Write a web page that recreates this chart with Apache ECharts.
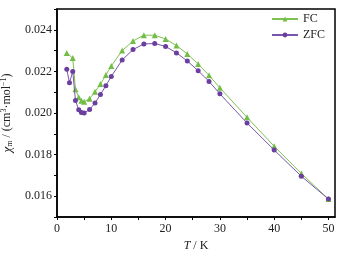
<!DOCTYPE html>
<html>
<head>
<meta charset="utf-8">
<script src="https://cdn.jsdelivr.net/npm/echarts@6/dist/echarts.min.js"></script>
<style>
  html, body { margin: 0; padding: 0; background: #fff; }
  #chart { width: 346px; height: 254px; }
</style>
</head>
<body>
<div id="chart"></div>
<script>
// 温度 (K)
var temps = [1.8, 2.3, 2.9, 3.4, 4, 4.5, 5, 6, 7, 8, 9, 10, 12, 14, 16, 18, 20, 22, 24, 26, 28, 30, 35, 40, 45, 50];
// 场冷 FC
var fcValues = [0.02289, null, 0.02264, 0.02114, 0.02076, 0.02059, 0.02054, 0.02069, 0.02102, 0.02139, 0.02183, 0.02226,
  0.02300, 0.02346, 0.02374, 0.02374, 0.02356, 0.02324, 0.02284, 0.02235, 0.02181, 0.02121, 0.01979, 0.01840, 0.01709, 0.01586];
// 零场冷 ZFC
var zfcValues = [0.02210, 0.02145, 0.02200, 0.02060, 0.02016, 0.02003, 0.02000, 0.02017, 0.02048, 0.02089, 0.02131, 0.02176,
  0.02255, 0.02305, 0.02332, 0.02334, 0.02320, 0.02289, 0.02250, 0.02203, 0.02152, 0.02092, 0.01952, 0.01822, 0.01696, 0.01586];
var xLabels = [0, 10, 20, 30, 40, 50];
var yLabels = [0.016, 0.018, 0.020, 0.022, 0.024];

function pairs(xs, ys) {
  return xs.map(function (x, i) { return [x, ys[i]]; });
}

var chart = echarts.init(document.getElementById('chart'));
var serif = 'Liberation Serif';

var option = {
  backgroundColor: '#fff',
  animation: false,
  textStyle: { fontFamily: serif },
  grid: {
    left: 57, right: 11, top: 9, bottom: 37,
    outerBoundsMode: 'none',
    show: true, borderColor: '#000', borderWidth: 1.5
  },
  legend: {
    orient: 'vertical',
    right: 16, top: 8,
    itemWidth: 26, itemHeight: 6, itemGap: 4,
    textStyle: { fontFamily: serif, fontSize: 12, color: '#222' },
    data: ['FC', 'ZFC']
  },
  xAxis: {
    type: 'value',
    min: 0, max: 51.2, interval: 5,
    name: '{i|T}{n| / K}',
    nameLocation: 'middle', nameGap: 22,
    nameTextStyle: {
      color: '#222',
      rich: {
        i: { fontFamily: serif, fontSize: 12, fontStyle: 'italic', color: '#222' },
        n: { fontFamily: serif, fontSize: 12, color: '#222' }
      }
    },
    axisLine: { lineStyle: { color: '#000', width: 1.5 } },
    axisTick: { length: 3, lineStyle: { color: '#000' } },
    axisLabel: {
      fontFamily: serif, fontSize: 12, color: '#222', margin: 6,
      showMaxLabel: false,
      formatter: function (v) { return xLabels.indexOf(v) >= 0 ? String(v) : ''; }
    },
    splitLine: { show: false }
  },
  yAxis: {
    type: 'value',
    min: 0.015, max: 0.025, interval: 0.001,
    name: '{i|χ}{s|m}{n| / (cm}{sup|3}{n|·mol}{sup|−1}{n|)}',
    nameLocation: 'middle', nameGap: 39, nameRotate: 90,
    nameTextStyle: {
      color: '#222',
      rich: {
        i: { fontFamily: serif, fontSize: 13, fontStyle: 'italic', color: '#222' },
        s: { fontFamily: serif, fontSize: 8, color: '#222', verticalAlign: 'bottom', padding: [6, 0, 0, 0] },
        n: { fontFamily: serif, fontSize: 12, color: '#222' },
        sup: { fontFamily: serif, fontSize: 8, color: '#222', verticalAlign: 'top', padding: [0, 0, 6, 0] }
      }
    },
    axisLine: { show: true, lineStyle: { color: '#000', width: 1.5 } },
    axisTick: { show: true, length: 3, lineStyle: { color: '#000' } },
    axisLabel: {
      fontFamily: serif, fontSize: 12, color: '#222', margin: 5,
      formatter: function (v) {
        var r = Math.round(v * 1000) / 1000;
        return yLabels.indexOf(r) >= 0 ? r.toFixed(3) : '';
      }
    },
    splitLine: { show: false }
  },
  series: [
    {
      name: 'FC', type: 'line',
      data: pairs(temps, fcValues),
      connectNulls: true,
      symbol: 'triangle', symbolSize: 6,
      lineStyle: { color: '#7cc252', width: 1 },
      itemStyle: { color: '#72bd45' },
      z: 2
    },
    {
      name: 'ZFC', type: 'line',
      data: pairs(temps, zfcValues),
      symbol: 'circle', symbolSize: 5,
      lineStyle: { color: '#7a55ad', width: 1 },
      itemStyle: { color: '#6a3fa0' },
      z: 3
    }
  ]
};

chart.setOption(option);
</script>
</body>
</html>
